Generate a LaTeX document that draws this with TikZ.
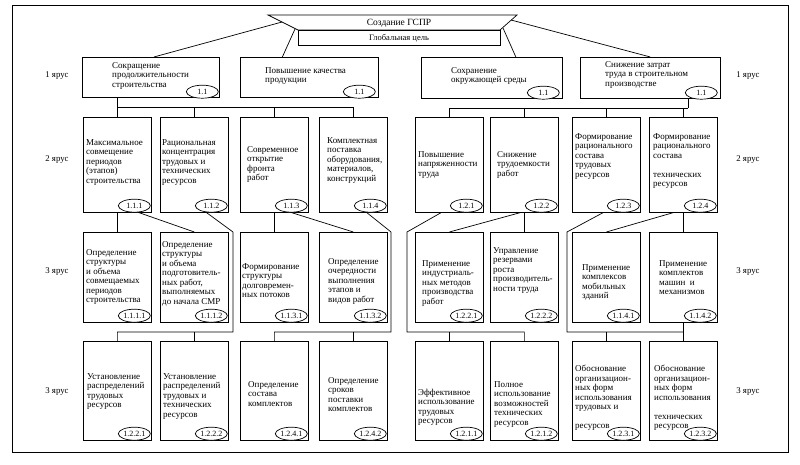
\documentclass[tikz,border=0pt]{standalone}
\usepackage{fontspec}
\setmainfont{Liberation Serif}
\usetikzlibrary{shapes.geometric}
\newcommand\mybox[8]{%
  \node[box, minimum height=#4] (#1) at (#2,#3) {};
  \node[txt] (#1t) at (#2+#5,#3+#6) {#7};
  \node[num, anchor=east] (#1e) at ([xshift=-1pt,yshift=7pt]#1.south east) {#8};
}
\begin{document}
\begin{tikzpicture}[x=1pt,y=-1pt,
  box/.style={draw, line width=0.7pt, anchor=north west, inner sep=0pt, minimum width=68pt},
  bigbox/.style={draw, line width=0.7pt, anchor=north west, inner sep=0pt},
  num/.style={draw, ellipse, fill=white, line width=0.7pt, minimum width=32pt, minimum height=13pt, inner sep=0pt, font=\fontsize{8}{8}\selectfont},
  txt/.style={anchor=north west, align=left, inner sep=0pt, font=\fontsize{9}{9.5}\selectfont},
  lvl/.style={font=\fontsize{8.8}{10}\selectfont, inner sep=0pt},
  conn/.style={line width=0.7pt}]
\useasboundingbox (0,0) rectangle (800,464);
% frame
\draw[line width=0.6pt] (12,5) rectangle (788,452);
% top
\coordinate (t1) at (268,15);
\coordinate (t2) at (517,15);
\coordinate (t3) at (500,30);
\coordinate (t4) at (298,30);
\draw[conn] (t1) -- (t2) -- (t3) -- (t4) -- cycle;
\node[lvl, font=\fontsize{9.5}{10}\selectfont] (title) at (399,23) {Создание ГСПР};
\node[bigbox, minimum width=202pt, minimum height=15pt] (goal) at (298,30) {};
\node[lvl, font=\fontsize{8.5}{9}\selectfont] (goalt) at (399,38) {Глобальная цель};
\coordinate (s1) at (282,22);
\coordinate (s2) at (295,29);
\coordinate (s3) at (503,28);
\coordinate (s4) at (511,20);
% level 1
\node[bigbox, minimum width=137pt, minimum height=40pt] (a1) at (82,57) {};
\node[bigbox, minimum width=138pt, minimum height=40pt] (a2) at (240,57) {};
\node[bigbox, minimum width=141pt, minimum height=41pt] (a3) at (421,57) {};
\node[bigbox, minimum width=140pt, minimum height=41pt] (a4) at (580,57) {};
\node[txt] (a1t) at (112,62) {Сокращение\\продолжительности\\строительства};
\node[txt] (a2t) at (265,67) {Повышение качества\\продукции};
\node[txt] (a3t) at (451,67) {Сохранение\\окружающей среды};
\node[txt] (a4t) at (605,61) {Снижение затрат\\труда в строительном\\производстве};
\node[num, anchor=east] (a1e) at ([xshift=-1pt,yshift=6pt]a1.south east) {1.1};
\node[num, anchor=east] (a2e) at ([xshift=-3pt,yshift=6pt]a2.south east) {1.1};
\node[num, anchor=east] (a3e) at ([xshift=-3pt,yshift=6pt]a3.south east) {1.1};
\node[num, anchor=east] (a4e) at ([xshift=-3pt,yshift=6pt]a4.south east) {1.1};
\draw[conn] (s1) -- ([xshift=3pt]a1.north);
\draw[conn] (s2) -- ([xshift=-27pt]a2.north);
\draw[conn] (s3) -- ([xshift=24pt]a3.north);
\draw[conn] (s4) -- (a4.north);
% level labels
\node[lvl] (l1) at (57,76) {1 ярус};
\node[lvl] (r1) at (748,76) {1 ярус};
\node[lvl] (l2) at (57,160) {2 ярус};
\node[lvl] (r2) at (748,160) {2 ярус};
\node[lvl] (l3) at (57,272) {3 ярус};
\node[lvl] (r3) at (748,272) {3 ярус};
\node[lvl] (l4) at (57,392) {3 ярус};
\node[lvl] (r4) at (748,392) {3 ярус};
% level 2
\mybox{b1}{83}{117}{95}{3}{22}{Максимальное\\совмещение\\периодов\\(этапов)\\строительства}{1.1.1}
\mybox{b2}{160}{117}{95}{2}{22}{Рациональная\\концентрация\\трудовых и\\технических\\ресурсов}{1.1.2}
\mybox{b3}{240}{117}{95}{7}{29}{Современное\\открытие\\фронта\\работ}{1.1.3}
\mybox{b4}{319}{117}{95}{8}{20}{Комплектная\\поставка\\оборудования,\\материалов,\\конструкций}{1.1.4}
\mybox{b5}{415}{117}{95}{3}{34}{Повышение\\напряженности\\труда}{1.2.1}
\mybox{b6}{490}{117}{95}{7}{34}{Снижение\\трудоемкости\\работ}{1.2.2}
\mybox{b7}{572}{117}{95}{3}{16}{Формирование\\рационального\\состава\\трудовых\\ресурсов}{1.2.3}
\mybox{b8}{649}{117}{95}{4}{16}{Формирование\\рационального\\состава\\[9.5pt]технических\\ресурсов}{1.2.4}
% level 3
\mybox{c1}{83}{232}{90}{3}{17}{Определение\\структуры\\и объема\\совмещаемых\\периодов\\строительства}{1.1.1.1}
\mybox{c2}{160}{232}{90}{2}{9}{Определение\\структуры\\и объема\\подготовитель-\\ных работ,\\выполняемых\\до начала СМР}{1.1.1.2}
\mybox{c3}{240}{232}{90}{2}{31}{Формирование\\структуры\\долговремен-\\ных потоков}{1.1.3.1}
\mybox{c4}{319}{232}{90}{9}{26}{Определение\\очередности\\выполнения\\этапов и\\видов работ}{1.1.3.2}
\mybox{c5}{415}{232}{90}{7}{28}{Применение\\индустриаль-\\ных методов\\производства\\работ}{1.2.2.1}
\mybox{c6}{490}{232}{90}{3}{15}{Управление\\резервами\\роста\\производитель-\\ности труда}{1.2.2.2}
\mybox{c7}{572}{232}{90}{10}{32}{Применение\\комплексов\\мобильных\\зданий}{1.1.4.1}
\mybox{c8}{649}{232}{90}{10}{28}{Применение\\комплектов\\машин\ \ и\\механизмов}{1.1.4.2}
% level 4
\mybox{d1}{83}{341}{99}{4}{32}{Установление\\распределений\\трудовых\\ресурсов}{1.2.2.1}
\mybox{d2}{160}{341}{99}{3}{32}{Установление\\распределений\\трудовых и\\технических\\ресурсов}{1.2.2.2}
\mybox{d3}{240}{341}{99}{8}{40}{Определение\\состава\\комплектов}{1.2.4.1}
\mybox{d4}{319}{341}{99}{9}{36}{Определение\\сроков\\поставки\\комплектов}{1.2.4.2}
\mybox{d5}{415}{341}{99}{3}{48}{Эффективное\\использование\\трудовых\\ресурсов}{1.2.1.1}
\mybox{d6}{490}{341}{99}{4}{40}{Полное\\использование\\возможностей\\технических\\ресурсов}{1.2.1.2}
\mybox{d7}{572}{341}{99}{3}{24}{Обоснование\\организацион-\\ных форм\\использования\\трудовых и\\[9.5pt]ресурсов}{1.2.3.1}
\mybox{d8}{649}{341}{99}{5}{24}{Обоснование\\организацион-\\ных форм\\использования\\[9.5pt]технических\\ресурсов}{1.2.3.2}
% level 1 -> level 2
\coordinate (j1) at (116,107);
\coordinate (j2) at (688,108);
\draw[conn] (a1.south -| b1.north) -- (b1.north);
\draw[conn] (b1.north |- j1) -- (b4.north |- j1) -- (b4.north);
\draw[conn] (b2.north |- j1) -- (b2.north);
\draw[conn] (b3.north |- j1) -- (b3.north);
\draw[conn] (a4.south -| j2) -- (j2);
\draw[conn] (b5.north |- j2) -- (j2);
\draw[conn] (b5.north |- j2) -- (b5.north);
\draw[conn] (b6.north |- j2) -- (b6.north);
\draw[conn] (b7.north |- j2) -- (b7.north);
\draw[conn] (b8.north |- j2) -- (b8.north);
% level 2 -> level 3
\coordinate (k2) at (233,232);
\coordinate (h2) at (233,332);
\coordinate (k4) at (391,232);
\coordinate (h4) at (391,332);
\coordinate (k5) at (407,232);
\coordinate (h5) at (407,332);
\coordinate (k7) at (567,232);
\coordinate (h7) at (567,332);
\draw[conn] (b1.south) -- (c1.north);
\draw[conn] (b1e.-60) -- (c2.north);
\draw[conn] (b2e.-130) -- (k2) -- (h2) -| (d1.north);
\draw[conn] (d2.north |- h2) -- (d2.north);
\draw[conn] (b3.south) -- (c3.north);
\draw[conn] (b3e.south) -- (c4.north);
\draw[conn] (b4e.-120) -- (k4) -- (h4) -| (d3.north);
\draw[conn] (d4.north |- h4) -- (d4.north);
\draw[conn] ([xshift=26pt]b5.south west) -- (k5) -- (h5) -| (d6.north);
\draw[conn] (d5.north |- h5) -- (d5.north);
\draw[conn] ([xshift=30pt]b6.south west) -- (c5.north);
\draw[conn] (b6.south) -- (c6.north);
\draw[conn] ([xshift=31pt]b7.south west) -- (k7) -- (h7) -| (d8.north);
\draw[conn] (d7.north |- h7) -- (d7.north);
\draw[conn] ([xshift=24pt]b8.south west) -- (c7.north);
\draw[conn] (b8.south) -- (c8.north);
\draw[conn] (c8.south) -- (d8.north);
\end{tikzpicture}
\end{document}
